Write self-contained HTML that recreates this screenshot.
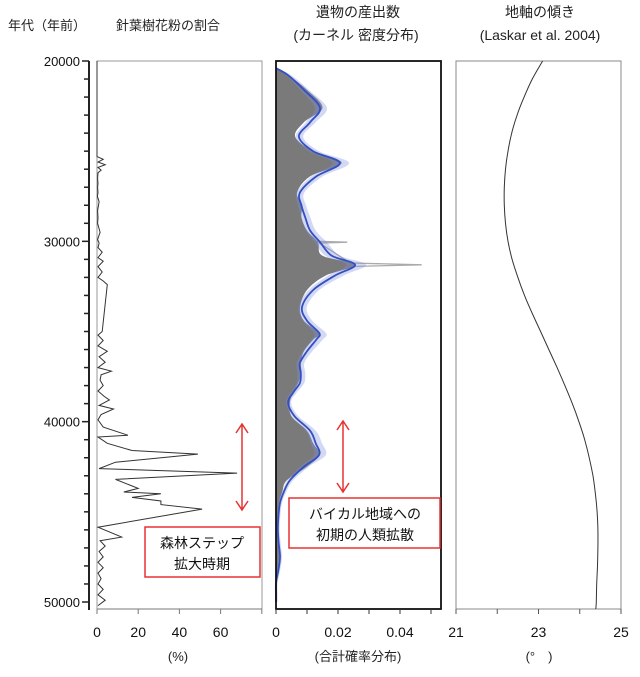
<!DOCTYPE html>
<html><head><meta charset="utf-8"><style>
body{margin:0;background:#fff;}
svg{display:block;font-family:"Liberation Sans","Noto Sans CJK JP",sans-serif;}
</style></head><body>
<svg id="c" width="640" height="677" viewBox="0 0 640 677">
<text x="8" y="30" font-size="13" fill="#222">年代（年前）</text>
<text x="116" y="30" font-size="13" fill="#222">針葉樹花粉の割合</text>
<text x="358" y="17" font-size="14" fill="#222" text-anchor="middle">遺物の産出数</text>
<text x="356" y="40" font-size="14" fill="#222" text-anchor="middle">(カーネル 密度分布)</text>
<text x="540" y="17" font-size="14" fill="#222" text-anchor="middle">地軸の傾き</text>
<text x="540" y="40" font-size="14" fill="#222" text-anchor="middle">(Laskar et al. 2004)</text>
<g id="g"></g>
<text x="178" y="661" font-size="13" fill="#222" text-anchor="middle">(%)</text>
<text x="358" y="661" font-size="13" fill="#222" text-anchor="middle">(合計確率分布)</text>
<text x="539" y="661" font-size="13" fill="#222" text-anchor="middle">(°　)</text>
<rect x="145" y="527" width="115" height="50" fill="#fff" stroke="#e53333" stroke-width="1.5"/>
<text x="202" y="548" font-size="14" fill="#111" text-anchor="middle">森林ステップ</text>
<text x="202" y="569" font-size="14" fill="#111" text-anchor="middle">拡大時期</text>
<rect x="289" y="498" width="151" height="50" fill="#fff" stroke="#e53333" stroke-width="1.5"/>
<text x="365" y="519" font-size="14" fill="#111" text-anchor="middle">バイカル地域への</text>
<text x="365" y="540" font-size="14" fill="#111" text-anchor="middle">初期の人類拡散</text>
</svg>
<script>
const pollenAges=[20000,25300,25450,25600,25750,25900,26050,26200,26500,26800,27000,27300,27500,27800,28300,28700,29000,29500,29900,30100,30350,30600,30900,31100,31400,31700,32000,32200,32400,35000,35200,35500,35800,36100,36400,36700,37000,37200,37400,37700,38000,38300,38600,38800,39100,39300,39600,39900,40300,40750,40850,41200,41600,41800,42250,42600,42850,43200,43700,43900,44000,44200,44400,44600,44850,45850,46400,46600,46900,47200,47500,47800,48100,48400,48700,49000,49300,49600,49900,50200];
const pollenPct=[0,0,3,0.5,4,0.5,2,0.5,0.3,0.5,0.3,0.5,0.2,1,0.3,0.5,0.3,1.5,0.3,1,0.5,2.5,0.5,3,0.5,2.5,0.5,3,5,2.5,0.5,3,0.5,5,1,4,0.5,7,2,1.5,3,0.5,3.5,6,1,8,2,0.5,3,15,0.5,5,17,49,9,1,68,9,20,13,31,17,31,31,51,0.5,12,1.5,4,1,3,0.5,3,0.5,2,0.5,3,0.5,4,0.5];
const kdeAges=[20400,20800,21600,22600,23400,24200,25000,25650,26400,27300,28000,28650,29400,30050,30800,31300,31900,32700,33650,34400,35100,35450,36100,36750,37300,37850,38400,38950,39700,40500,41200,41850,42500,43250,43900,44500,45200,46000,46800,47500,48200,48950,49600,50000];
const kdeVal=[0,0.004,0.009,0.0142,0.011,0.0074,0.012,0.0206,0.013,0.0077,0.0082,0.0094,0.011,0.0142,0.018,0.0255,0.019,0.012,0.0084,0.010,0.014,0.013,0.010,0.0077,0.008,0.0077,0.0055,0.0039,0.006,0.011,0.0128,0.0139,0.009,0.0045,0.0025,0.0013,0.0008,0.0006,0.0009,0.0013,0.0008,0,0,0];
const sumVal=[0,0.004,0.010,0.0150,0.009,0.0062,0.012,0.0212,0.011,0.0068,0.0085,0.0082,0.010,0.0135,0.015,0.0258,0.016,0.010,0.0078,0.009,0.014,0.012,0.009,0.0080,0.0082,0.0072,0.0055,0.0045,0.005,0.010,0.0120,0.0140,0.010,0.0035,0.0020,0.0010,0.0006,0.0005,0.0008,0.0010,0.0006,0,0,0];
const spikeAges=[30000,30050,30100,31200,31300,31400];
const spikeVal=[0.013,0.023,0.014,0.024,0.047,0.022];
const oblAges=[20000,21000,22000,23000,24000,25000,26000,27000,28000,29000,30000,31000,32000,33000,34000,35000,36000,37000,38000,39000,40000,41000,42000,43000,44000,45000,46000,47000,48000,49000,50000,50400];
const oblDeg=[23.1,22.85,22.65,22.48,22.35,22.26,22.2,22.17,22.17,22.2,22.26,22.36,22.5,22.66,22.85,23.05,23.25,23.45,23.64,23.82,23.98,24.12,24.23,24.32,24.38,24.42,24.44,24.44,24.43,24.41,24.4,24.39];
const ageTicks=[20000,30000,40000,50000];
const pollenTicks=[0,20,40,60,80];
const pollenLabels=["0","20","40","60",""];
const densTicks=[0,0.01,0.02,0.03,0.04,0.05];
const densLabels=["0","","0.02","","0.04",""];
const oblTicks=[21,22,23,24,25];
const oblLabels=["21","","23","","25"];

const NS="http://www.w3.org/2000/svg",g=document.getElementById('g');
const Y=a=>61+(a-20000)*(541/30000);
const XP=v=>97+v*2.06, XD=v=>276+v*3100, XO=v=>456+(v-21)*41.25;
function el(t,at,p){const e=document.createElementNS(NS,t);for(const k in at)e.setAttribute(k,at[k]);(p||g).appendChild(e);return e;}
function xy(xs,ys,fx){return xs.map((a,i)=>[fx(ys[i]),Math.min(Y(a),609)]);}
function pts(xs,ys,fx){return xy(xs,ys,fx).map(p=>p[0].toFixed(1)+','+p[1].toFixed(1)).join(' ');}
function smooth(P,start){let d=start?'':'M'+P[0][0].toFixed(1)+','+P[0][1].toFixed(1);if(start)d='L'+P[0][0].toFixed(1)+','+P[0][1].toFixed(1);
for(let i=0;i<P.length-1;i++){const p0=P[Math.max(0,i-1)],p1=P[i],p2=P[i+1],p3=P[Math.min(P.length-1,i+2)];
const c1=[p1[0]+(p2[0]-p0[0])/6,p1[1]+(p2[1]-p0[1])/6],c2=[p2[0]-(p3[0]-p1[0])/6,p2[1]-(p3[1]-p1[1])/6];
d+=`C${c1[0].toFixed(1)},${c1[1].toFixed(1)} ${c2[0].toFixed(1)},${c2[1].toFixed(1)} ${p2[0].toFixed(1)},${p2[1].toFixed(1)}`;}return d;}

// age axis
let ax=el('line',{x1:89,y1:61,x2:89,y2:610,stroke:'#222','stroke-width':2});


for(let a=20000;a<=50000;a+=1000){const t=el('line',{x1:a%10000?84:82,y1:Y(a),x2:89,y2:Y(a),stroke:'#222','stroke-width':1.5});

}
ageTicks.forEach(a=>{const t=el('text',{x:80,y:Y(a)+5,'font-size':13,'text-anchor':'end',fill:'#111'});t.textContent=a;

});

// pollen panel
let pf=el('path',{d:'M97,609 V61 H262 V609',fill:'none',stroke:'#999','stroke-width':1});


el('line',{x1:97,y1:609,x2:262,y2:609,stroke:'#777'});
pollenTicks.forEach((v,i)=>{el('line',{x1:XP(v),y1:609,x2:XP(v),y2:614,stroke:'#777'});
const t=el('text',{x:XP(v),y:637,'font-size':14,'text-anchor':'middle',fill:'#111'});t.textContent=pollenLabels[i];

});
let pl=el('polyline',{points:pts(pollenAges,pollenPct,XP),fill:'none',stroke:'#333','stroke-width':1});



// density panel
const bandUp=kdeVal.map(v=>v*1.12+0.0005), bandDn=kdeVal.map(v=>Math.max(0,v*0.9-0.0003));
let sp=el('polyline',{points:pts(spikeAges,spikeVal,XD),fill:'none',stroke:'#aaa','stroke-width':1.3});


let fill=el('path',{d:'M276,'+Y(kdeAges[0])+smooth(xy(kdeAges,sumVal,XD),true)+'L276,609Z',fill:'#7a7a7a'});


const up=xy(kdeAges,bandUp,XD), dn=xy(kdeAges,bandDn,XD).reverse();
let band=el('path',{d:smooth(up)+smooth(dn,true)+'Z',fill:'#8090e0','fill-opacity':0.35});


let kl=el('path',{d:smooth(xy(kdeAges,kdeVal,XD)),fill:'none',stroke:'#3350c0','stroke-width':1.8});


let df=el('rect',{x:276,y:61,width:165,height:548,fill:'none',stroke:'#111','stroke-width':1.8});


densTicks.forEach((v,i)=>{el('line',{x1:XD(v),y1:609,x2:XD(v),y2:614,stroke:'#333'});
const t=el('text',{x:XD(v),y:637,'font-size':14,'text-anchor':'middle',fill:'#111'});t.textContent=densLabels[i];

});

// obliquity panel
let of=el('path',{d:'M456,609 V61 H621 V609 Z',fill:'none',stroke:'#888','stroke-width':1});


oblTicks.forEach((v,i)=>{el('line',{x1:XO(v),y1:609,x2:XO(v),y2:614,stroke:'#555'});
const t=el('text',{x:XO(v),y:637,'font-size':14,'text-anchor':'middle',fill:'#111'});t.textContent=oblLabels[i];

});
let ol=el('path',{d:smooth(xy(oblAges,oblDeg,XO)),fill:'none',stroke:'#333','stroke-width':1});



// arrows
function arrow(x,y1,y2,name){const a=el('path',{d:`M${x},${y1} V${y2} M${x-6},${y1+9} L${x},${y1} L${x+6},${y1+9} M${x-6},${y2-9} L${x},${y2} L${x+6},${y2-9}`,fill:'none',stroke:'#e53333','stroke-width':1.5});

}
arrow(242,424,510,'forest-steppe-arrow');
arrow(343,421,492,'baikal-arrow');
</script>
</body></html>
